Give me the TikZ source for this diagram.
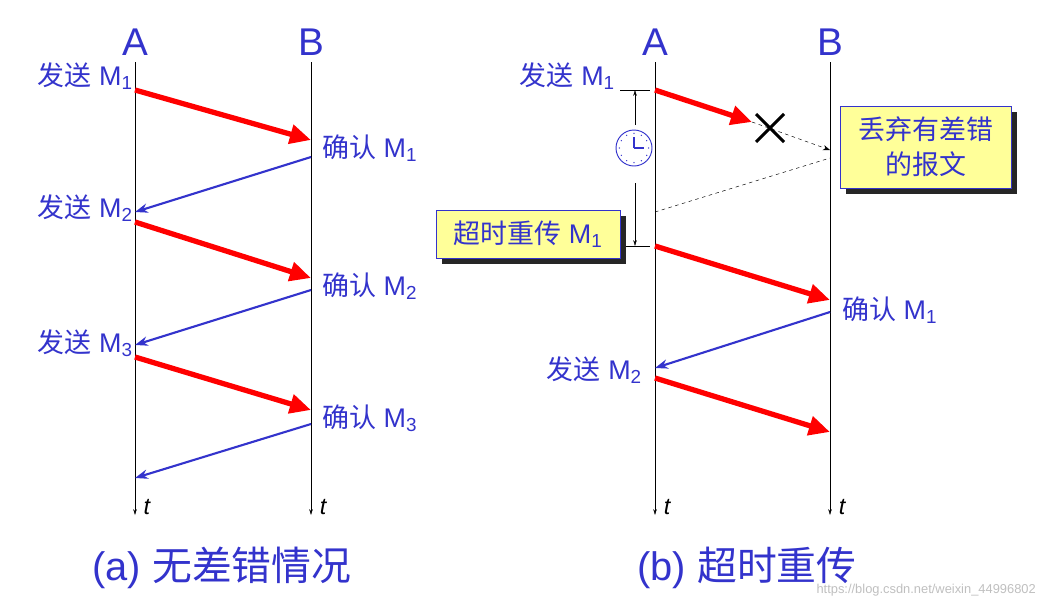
\documentclass[tikz,border=0pt]{standalone}
\usepackage{fontspec}
\setmainfont{Liberation Sans}
\newfontfamily\cjk{Noto Sans CJK SC}
\usetikzlibrary{arrows.meta,shadows}
\definecolor{tb}{RGB}{51,51,204}
\definecolor{ly}{RGB}{255,255,153}
\newcommand\mysub[1]{\textsubscript{#1}}
\begin{document}
\begin{tikzpicture}[x=0.03cm,y=-0.03cm,
  tline/.style={thin,-{Stealth[length=5pt,width=3pt]}},
  redarr/.style={line width=4.5pt,color=red,-{Triangle[length=18pt,width=16pt]}},
  bluarr/.style={line width=1.8pt,color=tb,-{Stealth[length=11pt,width=8pt]}},
  lab/.style={text=tb,font=\fontsize{23}{26}\selectfont,inner sep=0pt},
  big/.style={text=tb,font=\fontsize{33}{36}\selectfont,inner sep=0pt},
  captxt/.style={text=tb,font=\fontsize{34}{38}\selectfont,inner sep=0pt},
  tl/.style={font=\fontsize{20}{22}\selectfont\itshape,inner sep=0pt},
  ybox/.style={draw=tb,thick,fill=ly,text=tb,font=\fontsize{23}{30}\selectfont,align=center,inner sep=0pt,drop shadow={shadow xshift=5pt,shadow yshift=-5pt,fill=black!85,opacity=1}}]
\useasboundingbox (0,0) rectangle (1044,607);
% axes
\foreach \n/\x in {la/135,lb/311,ra/655,rb/830}{
  \coordinate (\n0) at (\x,62); \coordinate (\n1) at (\x,515);
  \draw[tline] (\n0) -- (\n1);
  \node[tl] at (\x+12,507) {t};}
\node[big] at (135,42) {A}; \node[big] at (311,42) {B};
\node[big] at (655,42) {A}; \node[big] at (830,42) {B};
% left
\foreach \ya/\yb/\yc/\yd/\i in {90/140/157/212/1,222/278/290/345/2,357/410/424/478/3}{
  \coordinate (s\i) at (135,\ya); \coordinate (r\i) at (311,\yb);
  \coordinate (c\i) at (311,\yc); \coordinate (d\i) at (135,\yd);
  \draw[redarr] (s\i) -- (r\i);
  \draw[bluarr] (c\i) -- (d\i);
  \node[lab,anchor=east] at (133,\ya-14) {{\cjk 发送} M\mysub{\i}};
  \node[lab,anchor=west] at (322,\yb+8) {{\cjk 确认} M\mysub{\i}};}
% right
\coordinate (p1) at (655,90); \coordinate (x1) at (752,122);
\coordinate (q1) at (830,150); \coordinate (q2) at (830,158); \coordinate (p2) at (655,212);
\draw[redarr] (p1) -- (x1);
\draw[line width=2.5pt] (756,114) -- (784,142) (756,142) -- (784,114);
\draw[dashed,-{Stealth[length=6pt]}] (x1) -- (q1);
\draw[dashed] (p2) -- (q2);
\node[ybox,minimum width=171*0.03cm,minimum height=82*0.03cm] (bx1) at (926,147) {{\cjk 丢弃有差错}\\{\cjk 的报文}};
\node[lab,anchor=east] at (615,76) {{\cjk 发送} M\mysub{1}};
% timer
\coordinate (t1a) at (620,90); \coordinate (t1b) at (650,90);
\coordinate (t2a) at (620,246); \coordinate (t2b) at (650,246);
\draw (t1a) -- (t1b); \draw (t2a) -- (t2b);
\coordinate (ar1) at (635,125); \coordinate (ar2) at (635,183);
\draw[-{Stealth[length=5pt,width=3pt]}] (ar1) -- (635,90);
\draw[-{Stealth[length=5pt,width=3pt]}] (ar2) -- (635,246);
\node[circle,draw=tb,thick,fill=white,minimum size=1.08cm,inner sep=0pt] (clk) at (634,148) {};
\foreach \a in {0,30,...,330}{\fill[tb] (clk.center) ++(\a:0.44cm) circle (0.6pt);}
\draw[tb,line width=1.3pt] (clk.center) -- ++(0,-11) (clk.center) -- ++(10,0);
\node[ybox,minimum width=184*0.03cm,minimum height=48*0.03cm] (bx2) at (528,234) {{\cjk 超时重传} M\mysub{1}};
\coordinate (p3) at (655,246); \coordinate (q3) at (830,300);
\draw[redarr] (p3) -- (q3);
\node[lab,anchor=west] at (842,310) {{\cjk 确认} M\mysub{1}};
\coordinate (q4) at (830,312); \coordinate (p4) at (655,368);
\draw[bluarr] (q4) -- (p4);
\node[lab,anchor=east] at (642,370) {{\cjk 发送} M\mysub{2}};
\coordinate (p5) at (655,378); \coordinate (q5) at (830,432);
\draw[redarr] (p5) -- (q5);
% captions
\node[captxt] at (222,568) {(a) {\cjk 无差错情况}};
\node[captxt] at (747,568) {(b) {\cjk 超时重传}};
\node[text=black!25,font=\fontsize{11}{12}\selectfont,anchor=east,inner sep=0pt] at (1036,590) {https://blog.csdn.net/weixin\_44996802};
\end{tikzpicture}
\end{document}
